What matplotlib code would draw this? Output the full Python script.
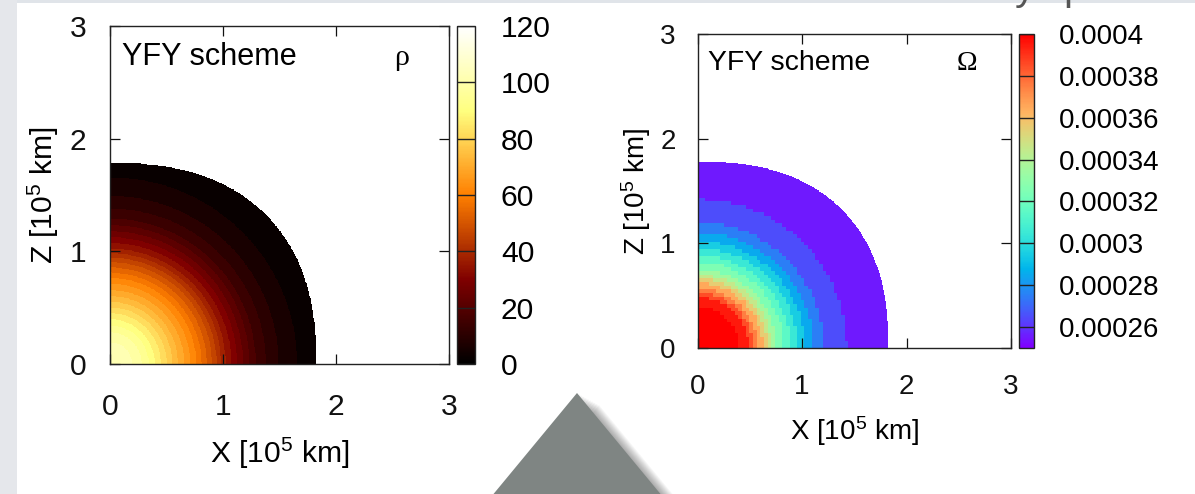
import numpy as np
import matplotlib
matplotlib.use('Agg')
import matplotlib.pyplot as plt
from matplotlib.colors import Normalize
from matplotlib.cm import ScalarMappable
from matplotlib.patches import Polygon, Rectangle

plt.rcParams['font.family'] = ['Liberation Sans', 'DejaVu Sans']
plt.rcParams['mathtext.fontset'] = 'custom'
plt.rcParams['mathtext.rm'] = 'Liberation Sans'
plt.rcParams['mathtext.it'] = 'Liberation Sans:italic'

# --- values ---
axis_ticks = [0, 1, 2, 3]
surface_eq = 1.82      # equatorial radius [1e5 km]
surface_pole = 1.78    # polar radius [1e5 km]
surface_power = 2.4    # outline is a bit fuller than an ellipse

rho_radius = [0.0, 0.15, 0.30, 0.45, 0.60, 0.75, 0.90, 1.02, 1.16, 1.30, 1.45, 1.60, 1.78, 1.90]
rho_value = [104, 102, 95, 84, 72, 61, 48, 36, 25, 15, 9, 5, 1.5, 0.5]
rho_ticks = [0, 20, 40, 60, 80, 100, 120]
rho_step = 4.0

omega_radius = [0.0, 0.30, 0.46, 0.52, 0.57, 0.62, 0.66, 0.70, 0.75, 0.82, 0.88, 0.95,
                1.02, 1.10, 1.20, 1.30, 1.42, 1.55, 1.80, 1.90]
omega_value = [4.1e-4, 4.05e-4, 3.96e-4, 3.82e-4, 3.70e-4, 3.60e-4, 3.50e-4, 3.40e-4,
               3.30e-4, 3.20e-4, 3.10e-4, 3.00e-4, 2.90e-4, 2.80e-4, 2.70e-4, 2.65e-4,
               2.60e-4, 2.55e-4, 2.50e-4, 2.50e-4]
omega_ticks = [0.00026, 0.00028, 0.0003, 0.00032, 0.00034, 0.00036, 0.00038, 0.0004]
omega_tick_labels = ['0.00026', '0.00028', '0.0003', '0.00032', '0.00034', '0.00036',
                     '0.00038', '0.0004']
omega_step = 1e-5

W, H = 1195, 494


def px(x, y):
    # screen pixel (from top-left) -> figure fraction
    return x / W, 1 - y / H


def build_field(radius, value, vmin, step, cell):
    fine = 0.005
    c = np.arange(fine / 2, 3, fine)
    X, Z = np.meshgrid(c, c)
    # sample on a coarser grid so the cells show as blocks
    Xc = (np.floor(X / cell) + 0.5) * cell
    Zc = (np.floor(Z / cell) + 0.5) * cell
    F = np.interp(np.hypot(Xc, Zc), radius, value)
    F = vmin + (np.floor((F - vmin) / step) + 0.5) * step
    inside = (X / surface_eq) ** surface_power + (Z / surface_pole) ** surface_power <= 1
    return np.ma.masked_where(~inside, F)


def panel(fig, rect, crect, field, cmap, vmin, vmax, ticks, tick_labels, symbol, fs):
    ax = fig.add_axes(rect)
    cm = plt.get_cmap(cmap).copy()
    cm.set_bad((0, 0, 0, 0))
    norm = Normalize(vmin, vmax)
    ax.imshow(field, origin='lower', extent=[0, 3, 0, 3], cmap=cm, norm=norm,
              interpolation='nearest', aspect='auto', zorder=1)
    ax.set_xlim(0, 3)
    ax.set_ylim(0, 3)
    ax.set_xticks(axis_ticks)
    ax.set_yticks(axis_ticks)
    ax.tick_params(direction='in', length=7, width=0.9, top=True, right=True,
                   labelsize=fs, colors='#111111')
    ax.tick_params(axis='x', pad=fs * 0.95)
    ax.tick_params(axis='y', pad=fs * 0.78)
    for s in ax.spines.values():
        s.set_linewidth(1.0)
        s.set_color('#222222')
        s.set_zorder(5)
    ax.set_xlabel('X [10$^{5}$ km]', fontsize=fs, va='center')
    ax.set_ylabel('Z [10$^{5}$ km]', fontsize=fs, va='center')
    ax.xaxis.set_label_coords(0.5, -0.265)
    ax.yaxis.set_label_coords(-0.195, 0.5)
    ax.text(0.035, 0.885, 'YFY scheme', transform=ax.transAxes, fontsize=fs * 1.02,
            ha='left', va='baseline')
    ax.text(0.86, 0.885, symbol, transform=ax.transAxes, fontsize=fs,
            ha='center', va='baseline', family=['Liberation Serif', 'DejaVu Serif'])

    cax = fig.add_axes(crect)
    cb = fig.colorbar(ScalarMappable(norm=norm, cmap=cmap), cax=cax)
    cb.set_ticks(ticks)
    cb.set_ticklabels(tick_labels)
    cb.outline.set_linewidth(1.0)
    cb.outline.set_color('#222222')
    cax.tick_params(length=0, labelsize=fs, pad=fs * 0.88)
    for t in ticks:
        cax.axhline(t, color='#222222', lw=1.0)
    return ax


fig = plt.figure(figsize=(W / 100, H / 100), dpi=100)
fig.patch.set_facecolor('white')

# slide background pieces
fig.patches.append(Rectangle(px(0, H), 17 / W, 1, transform=fig.transFigure,
                             facecolor='#e5e7eb', edgecolor='none', zorder=0))
fig.patches.append(Rectangle(px(17, 3), 1, 3 / H, transform=fig.transFigure,
                             facecolor='#e0e4e9', edgecolor='none', zorder=0))

rho_field = build_field(rho_radius, rho_value, 0, rho_step, 0.005)
omega_field = build_field(omega_radius, omega_value, 2.5e-4, omega_step, 0.035)

panel(fig, [110 / W, 130 / H, 339 / W, 338 / H], [457 / W, 130 / H, 17.5 / W, 338 / H],
      rho_field, 'afmhot', 0, 120, rho_ticks, [str(t) for t in rho_ticks], '\u03c1', 21.6)
panel(fig, [697.5 / W, 146.3 / H, 313.5 / W, 313.4 / H],
      [1019.4 / W, 146.3 / H, 15 / W, 313.4 / H],
      omega_field, 'rainbow', 2.5e-4, 4e-4, omega_ticks, omega_tick_labels, '\u03a9', 20.0)

# grey arrow head of the slide, with a soft shadow
tri = [(577, 393), (410, 595), (744, 595)]
for k in range(10, 0, -1):
    shifted = [px(x + 2.2 * k, y + 1.2 * k) for x, y in tri]
    fig.patches.append(Polygon(shifted, closed=True, transform=fig.transFigure,
                               facecolor='black', edgecolor='none', alpha=0.035, zorder=1))
fig.patches.append(Polygon([px(x, y) for x, y in tri], closed=True, transform=fig.transFigure,
                           facecolor='#7f8583', edgecolor='none', zorder=2))

# slide title, cut off at the very top just as in the screenshot
fig.text(*px(1015, 0), 'y', fontsize=29, color='#555555', ha='left', va='baseline')
fig.text(*px(1063, 0), 'p', fontsize=29, color='#555555', ha='left', va='baseline')

fig.savefig('out.png', dpi=100, facecolor=fig.get_facecolor())
